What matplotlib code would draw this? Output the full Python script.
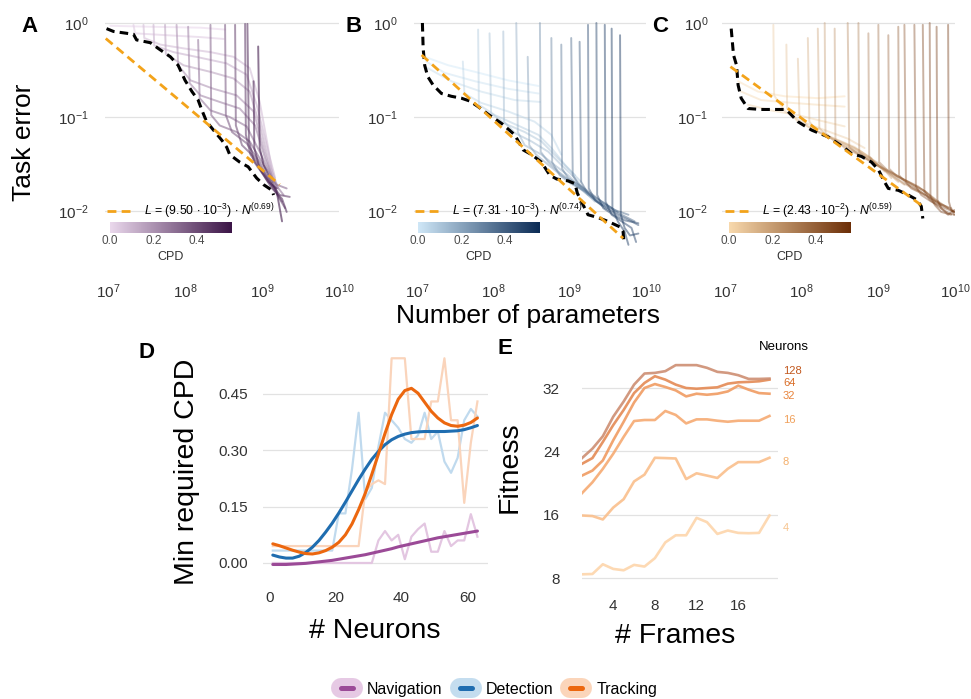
import numpy as np
import matplotlib
matplotlib.use("Agg")
import matplotlib.pyplot as plt
from matplotlib.colors import LinearSegmentedColormap, Normalize
from matplotlib.lines import Line2D
from matplotlib.cm import ScalarMappable
from matplotlib.legend_handler import HandlerTuple
from matplotlib.ticker import FormatStrFormatter, NullLocator, FixedLocator

plt.rcParams['font.family'] = ['Liberation Sans', 'DejaVu Sans']
plt.rcParams['mathtext.fontset'] = 'custom'
plt.rcParams['mathtext.rm'] = 'Liberation Sans'
plt.rcParams['mathtext.it'] = 'Liberation Sans:italic'
plt.rcParams['mathtext.bf'] = 'Liberation Sans:bold'

# ---------------------------------------------------------------- data
# Panels A-C: training curves, log10(number of parameters) vs log10(task error)
A_cpd = [0.00, 0.03, 0.07, 0.10, 0.14, 0.18, 0.22, 0.26, 0.30, 0.34, 0.38, 0.42, 0.46, 0.50, 0.54]
A_log_n = [
    [7.03, 7.55, 8.20, 8.52],
    [7.33, 7.35, 7.76, 8.20, 8.50],
    [7.46, 7.47, 7.68, 7.98, 8.33, 8.63, 8.84, 8.97, 9.08, 9.15],
    [7.59, 7.60, 7.85, 8.20, 8.54, 8.80, 8.93, 9.06, 9.17],
    [7.74, 7.75, 7.98, 8.33, 8.63, 8.84, 8.97, 9.10, 9.21],
    [7.89, 7.91, 8.07, 8.37, 8.67, 8.89, 9.02, 9.15],
    [8.04, 8.06, 8.20, 8.45, 8.71, 8.91, 9.04, 9.19],
    [8.17, 8.19, 8.33, 8.58, 8.80, 8.97, 9.15, 9.28],
    [8.33, 8.34, 8.45, 8.67, 8.84, 9.02, 9.19, 9.32],
    [8.52, 8.53, 8.61, 8.80, 8.97, 9.10, 9.26],
    [8.65, 8.66, 8.74, 8.89, 9.02, 9.15, 9.30],
    [8.78, 8.79, 8.85, 8.97, 9.10, 9.23, 9.36],
    [8.81, 8.83, 8.90, 9.02, 9.13, 9.26, 9.32],
    [8.89, 8.90, 8.97, 9.08, 9.19],
    [8.95, 8.97, 9.02, 9.10, 9.19, 9.26],
]
A_log_err = [
    [-0.03, -0.04, -0.05, -0.07],
    [-0.02, -0.11, -0.13, -0.15, -0.17],
    [-0.02, -0.16, -0.23, -0.27, -0.31, -0.36, -0.48, -0.84, -1.33, -1.69],
    [-0.02, -0.24, -0.31, -0.37, -0.43, -0.55, -0.87, -1.30, -1.65],
    [-0.02, -0.33, -0.45, -0.52, -0.59, -0.73, -1.09, -1.51, -1.76],
    [-0.02, -0.45, -0.61, -0.70, -0.77, -0.94, -1.33, -1.69],
    [-0.04, -0.64, -0.77, -0.84, -0.91, -1.09, -1.44, -1.76],
    [-0.18, -0.80, -0.93, -1.00, -1.10, -1.37, -1.69, -1.83],
    [-0.02, -0.98, -1.09, -1.16, -1.26, -1.51, -1.72, -1.76],
    [-0.02, -0.98, -1.16, -1.28, -1.48, -1.69, -1.90],
    [-0.02, -1.09, -1.30, -1.42, -1.58, -1.76, -1.97],
    [-0.01, -1.19, -1.40, -1.55, -1.69, -1.83, -1.85],
    [-0.01, -1.26, -1.48, -1.62, -1.76, -1.87, -2.01],
    [-0.62, -1.33, -1.55, -1.69, -1.76],
    [-0.25, -1.33, -1.51, -1.65, -1.79, -2.11],
]
A_env_log_n = [6.98, 7.07, 7.33, 7.37, 7.55, 7.65, 7.81, 7.91, 8.00, 8.09, 8.17, 8.22,
               8.28, 8.39, 8.48, 8.54, 8.58, 8.71, 8.82, 8.93, 9.02, 9.13, 9.15]
A_env_log_err = [-0.06, -0.09, -0.12, -0.18, -0.21, -0.27, -0.36, -0.45, -0.61, -0.73, -0.82, -0.93,
                 -1.05, -1.16, -1.25, -1.32, -1.40, -1.48, -1.53, -1.65, -1.72, -1.78, -1.83]
A_fit_log_n = [6.97, 9.23]
A_fit_log_err = [-0.165, -1.72]
A_fit_label = r'$L$ = (9.50 $\cdot$ 10$^{-3}$) $\cdot$ $N^{(0.69)}$'

B_cpd = [0.00, 0.02, 0.04, 0.06, 0.09, 0.12, 0.15, 0.18, 0.22, 0.26, 0.30, 0.34, 0.38, 0.42, 0.46, 0.50, 0.52, 0.54, 0.55]
B_log_n = [
    [7.10, 7.41, 7.76, 8.19, 8.59],
    [7.12, 7.36, 7.76, 8.19, 8.59],
    [7.14, 7.45, 7.84, 8.28, 8.61],
    [7.60, 7.62, 7.84, 8.19, 8.54, 8.76, 8.89],
    [7.80, 7.81, 8.02, 8.32, 8.59, 8.76, 8.94, 9.07],
    [7.95, 7.97, 8.15, 8.41, 8.63, 8.80, 8.98, 9.15],
    [8.13, 8.14, 8.28, 8.50, 8.72, 8.89, 9.07, 9.24],
    [8.30, 8.32, 8.41, 8.63, 8.80, 8.98, 9.15, 9.33],
    [8.45, 8.47, 8.56, 8.72, 8.89, 9.07, 9.24, 9.42],
    [8.61, 8.62, 8.72, 8.85, 9.02, 9.20, 9.37, 9.50],
    [8.76, 8.77, 8.87, 9.02, 9.20, 9.37, 9.55],
    [8.89, 8.90, 8.98, 9.11, 9.28, 9.46, 9.63],
    [9.02, 9.04, 9.11, 9.24, 9.42, 9.59, 9.77],
    [9.13, 9.15, 9.22, 9.35, 9.50, 9.68, 9.85],
    [9.24, 9.25, 9.33, 9.46, 9.63, 9.81, 9.90],
    [9.35, 9.36, 9.44, 9.57, 9.72, 9.90],
    [9.46, 9.47, 9.55, 9.68, 9.81, 9.87],
    [9.55, 9.56, 9.63, 9.72, 9.77],
    [9.66, 9.67, 9.72, 9.79, 9.90],
]
B_log_err = [
    [-0.36, -0.45, -0.52, -0.61, -0.67],
    [-0.41, -0.53, -0.62, -0.70, -0.75],
    [-0.48, -0.62, -0.73, -0.82, -0.84],
    [-0.41, -0.75, -0.85, -0.94, -1.05, -1.19, -1.40],
    [-0.07, -0.87, -0.98, -1.09, -1.19, -1.33, -1.51, -1.62],
    [-0.11, -0.96, -1.07, -1.16, -1.26, -1.40, -1.55, -1.69],
    [-0.09, -1.05, -1.17, -1.26, -1.37, -1.51, -1.65, -1.83],
    [-0.00, -1.16, -1.30, -1.40, -1.51, -1.62, -1.76, -1.90],
    [-0.36, -1.30, -1.40, -1.51, -1.62, -1.72, -1.83, -1.94],
    [-0.00, -1.37, -1.48, -1.58, -1.69, -1.79, -1.90, -1.97],
    [-0.16, -1.48, -1.62, -1.71, -1.79, -1.90, -1.97],
    [-0.23, -1.55, -1.65, -1.72, -1.83, -1.92, -2.01],
    [-0.16, -1.62, -1.71, -1.79, -1.90, -1.99, -2.04],
    [-0.20, -1.69, -1.79, -1.90, -1.97, -2.04, -2.11],
    [-0.02, -1.76, -1.88, -1.97, -2.04, -2.11, -2.15],
    [-0.00, -1.83, -1.97, -2.04, -2.10, -2.13],
    [-0.02, -1.90, -2.04, -2.11, -2.18, -2.33],
    [-0.06, -1.97, -2.11, -2.22, -2.36],
    [-0.13, -2.04, -2.18, -2.26, -2.24],
]
B_env_log_n = [7.07, 7.08, 7.10, 7.14, 7.21, 7.32, 7.45, 7.58, 7.69, 7.80, 7.93, 8.11, 8.28, 8.39,
               8.50, 8.63, 8.74, 8.83, 8.98, 9.07, 9.10, 9.24, 9.37, 9.50, 9.66, 9.70, 9.71]
B_env_log_err = [-0.00, -0.27, -0.45, -0.57, -0.66, -0.75, -0.78, -0.80, -0.83, -0.89, -0.97, -1.07, -1.19, -1.35,
                 -1.40, -1.48, -1.62, -1.66, -1.68, -1.71, -1.81, -2.04, -2.07, -2.11, -2.17, -2.22, -2.33]
B_fit_log_n = [7.06, 9.70]
B_fit_log_err = [-0.34, -2.29]
B_fit_label = r'$L$ = (7.31 $\cdot$ 10$^{-3}$) $\cdot$ $N^{(0.74)}$'

C_cpd = [0.00, 0.02, 0.04, 0.06, 0.09, 0.12, 0.15, 0.18, 0.21, 0.24, 0.27, 0.30, 0.33, 0.36, 0.39,
         0.42, 0.45, 0.48, 0.50, 0.52, 0.54, 0.55]
C_log_n = [
    [7.17, 7.43, 7.78, 8.21, 8.56],
    [7.21, 7.47, 7.87, 8.21, 8.56],
    [7.30, 7.60, 7.95, 8.30, 8.56],
    [7.63, 7.64, 7.78, 8.00, 8.30, 8.60, 8.82],
    [7.80, 7.81, 7.95, 8.17, 8.43, 8.69, 8.91],
    [7.95, 7.97, 8.08, 8.30, 8.56, 8.78, 9.00],
    [8.08, 8.10, 8.21, 8.43, 8.69, 8.91, 9.08],
    [8.21, 8.23, 8.34, 8.56, 8.78, 9.00, 9.17],
    [8.30, 8.31, 8.43, 8.65, 8.87, 9.08, 9.26],
    [8.43, 8.44, 8.56, 8.74, 8.95, 9.17, 9.34],
    [8.60, 8.62, 8.74, 8.91, 9.13, 9.34, 9.52],
    [8.74, 8.75, 8.84, 9.04, 9.26, 9.47, 9.61],
    [8.87, 8.88, 8.97, 9.17, 9.39, 9.61, 9.74],
    [9.00, 9.01, 9.11, 9.30, 9.52, 9.69, 9.82],
    [9.13, 9.14, 9.24, 9.43, 9.61, 9.78, 9.91],
    [9.26, 9.27, 9.37, 9.52, 9.69, 9.87, 9.99],
    [9.34, 9.36, 9.43, 9.61, 9.78, 9.95, 9.99],
    [9.47, 9.49, 9.56, 9.69, 9.87, 9.99],
    [9.58, 9.60, 9.67, 9.78, 9.91, 9.99],
    [9.67, 9.68, 9.74, 9.82, 9.95],
    [9.76, 9.77, 9.82, 9.91, 9.99],
    [9.91, 9.92, 9.95, 9.99],
]
C_log_err = [
    [-0.62, -0.73, -0.78, -0.80, -0.78],
    [-0.73, -0.82, -0.85, -0.87, -0.89],
    [-0.87, -0.93, -0.98, -1.05, -1.10],
    [-0.02, -0.77, -0.94, -1.05, -1.14, -1.23, -1.33],
    [-0.23, -0.91, -1.05, -1.14, -1.23, -1.32, -1.44],
    [-0.38, -0.98, -1.10, -1.19, -1.28, -1.37, -1.51],
    [-0.16, -1.05, -1.16, -1.24, -1.33, -1.44, -1.58],
    [-0.06, -1.12, -1.21, -1.30, -1.39, -1.49, -1.65],
    [-0.00, -1.17, -1.26, -1.35, -1.44, -1.56, -1.69],
    [-0.06, -1.24, -1.33, -1.40, -1.49, -1.62, -1.72],
    [-0.00, -1.32, -1.40, -1.48, -1.58, -1.71, -1.79],
    [-0.00, -1.37, -1.44, -1.53, -1.63, -1.74, -1.83],
    [-0.11, -1.42, -1.51, -1.60, -1.69, -1.79, -1.90],
    [-0.02, -1.48, -1.56, -1.65, -1.74, -1.85, -1.94],
    [-0.13, -1.55, -1.63, -1.71, -1.79, -1.90, -1.97],
    [-0.04, -1.62, -1.71, -1.78, -1.87, -1.95, -2.01],
    [-0.02, -1.69, -1.76, -1.83, -1.92, -1.97, -2.04],
    [-0.02, -1.74, -1.83, -1.90, -1.97, -2.01],
    [-0.02, -1.79, -1.88, -1.95, -2.02, -2.04],
    [-0.00, -1.85, -1.94, -2.01, -2.04],
    [-0.04, -1.88, -1.97, -2.04, -1.99],
    [-0.02, -1.90, -1.99, -2.01],
]
C_env_log_n = [7.08, 7.11, 7.15, 7.17, 7.21, 7.30, 7.47, 7.78, 7.82, 7.95, 8.13, 8.34,
               8.56, 8.65, 8.78, 8.91, 9.00, 9.08, 9.13, 9.26, 9.39, 9.50, 9.56, 9.58]
C_env_log_err = [-0.06, -0.34, -0.45, -0.66, -0.80, -0.91, -0.92, -0.92, -0.94, -1.05, -1.14, -1.21,
                 -1.33, -1.39, -1.42, -1.48, -1.56, -1.69, -1.76, -1.78, -1.83, -1.88, -1.95, -2.08]
C_fit_log_n = [7.07, 9.58]
C_fit_log_err = [-0.465, -1.95]
C_fit_label = r'$L$ = (2.43 $\cdot$ 10$^{-2}$) $\cdot$ $N^{(0.59)}$'

# Panel D: minimum required CPD vs number of neurons
D_neurons = [1, 3, 5, 7, 9, 11, 13, 15, 17, 19, 21, 23, 25, 27, 29, 31,
             33, 35, 37, 39, 41, 43, 45, 47, 49, 51, 53, 55, 57, 59, 61, 63]
D_nav_raw = [0.0, 0.0, 0.0, 0.0, 0.0, 0.0, 0.0, 0.0, 0.0, 0.0, 0.0, 0.0, 0.0, 0.0, 0.0, 0.0,
             0.06, 0.085, 0.06, 0.075, 0.01, 0.07, 0.09, 0.105, 0.03, 0.03, 0.085, 0.045, 0.06, 0.06, 0.13, 0.07]
D_det_raw = [0.033, 0.033, 0.033, 0.033, 0.033, 0.033, 0.033, 0.033, 0.033, 0.033, 0.132, 0.132, 0.25, 0.40, 0.17, 0.20,
             0.31, 0.40, 0.38, 0.36, 0.33, 0.32, 0.34, 0.40, 0.33, 0.35, 0.27, 0.24, 0.28, 0.38, 0.41, 0.39]
D_trk_raw = [0.045, 0.045, 0.045, 0.045, 0.045, 0.045, 0.045, 0.045, 0.045, 0.045, 0.045, 0.045, 0.045, 0.045, 0.19, 0.21,
             0.22, 0.21, 0.545, 0.545, 0.545, 0.33, 0.33, 0.33, 0.43, 0.43, 0.545, 0.38, 0.38, 0.16, 0.32, 0.43]
D_nav_smooth = [-0.004, -0.004, -0.004, -0.003, -0.002, -0.001, 0.001, 0.003, 0.005, 0.007, 0.010, 0.013, 0.016, 0.019, 0.022, 0.026,
                0.030, 0.034, 0.038, 0.043, 0.047, 0.051, 0.055, 0.059, 0.063, 0.067, 0.070, 0.073, 0.076, 0.079, 0.082, 0.085]
D_det_smooth = [0.021, 0.016, 0.013, 0.013, 0.018, 0.028, 0.042, 0.060, 0.082, 0.106, 0.133, 0.162, 0.192, 0.222, 0.250, 0.276,
                0.297, 0.315, 0.328, 0.337, 0.343, 0.347, 0.349, 0.350, 0.350, 0.350, 0.350, 0.351, 0.352, 0.355, 0.360, 0.366]
D_trk_smooth = [0.051, 0.046, 0.040, 0.034, 0.029, 0.025, 0.024, 0.027, 0.033, 0.042, 0.055, 0.075, 0.104, 0.142, 0.185, 0.236,
                0.290, 0.345, 0.395, 0.436, 0.459, 0.465, 0.452, 0.428, 0.404, 0.386, 0.373, 0.366, 0.364, 0.367, 0.374, 0.386]
D_tasks = ['Navigation', 'Detection', 'Tracking']

# Panel E: fitness vs number of frames, per network size
E_frames = [1, 2, 3, 4, 5, 6, 7, 8, 9, 10, 11, 12, 13, 14, 15, 16, 17, 18, 19]
E_neurons = [4, 8, 16, 32, 64, 128]
E_fitness = [
    [8.47, 8.51, 9.74, 9.15, 8.98, 9.66, 9.45, 10.51, 12.5, 13.4, 13.4, 15.6, 15.06, 13.57, 14.0, 13.7, 13.66, 13.7, 15.9],
    [15.9, 15.83, 15.4, 16.9, 17.96, 20.2, 21.06, 23.19, 23.15, 23.1, 20.5, 21.23, 20.94, 20.64, 21.8, 22.64, 22.64, 22.64, 23.19],
    [18.72, 20.09, 21.79, 23.7, 25.83, 27.83, 27.96, 27.96, 29.1, 28.6, 27.53, 28.04, 28.04, 27.87, 27.74, 27.87, 27.87, 27.87, 28.47],
    [20.94, 21.57, 22.85, 25.4, 27.74, 30.17, 32.0, 32.5, 32.13, 31.7, 30.94, 31.28, 31.15, 31.28, 31.57, 32.3, 31.79, 31.36, 31.28],
    [22.43, 23.15, 25.19, 27.32, 29.23, 31.36, 32.64, 33.49, 33.06, 32.43, 32.0, 31.91, 32.0, 32.09, 32.55, 32.72, 32.77, 32.85, 33.06],
    [23.15, 24.34, 25.91, 28.38, 30.3, 32.43, 33.83, 33.91, 34.13, 34.89, 34.89, 34.89, 34.55, 34.04, 33.91, 33.62, 33.15, 33.15, 33.19],
]
E_label_y = [14.36, 22.66, 27.96, 31.03, 32.67, 34.15]

# ---------------------------------------------------------------- styles
W, H = 971, 699
fig = plt.figure(figsize=(W / 100, H / 100), dpi=100)
fig.patch.set_facecolor('white')


def frame(l, t, r, b):
    return [l / W, 1 - b / H, (r - l) / W, (b - t) / H]


TICK_C = '#333333'
GRID_C = '#e2e2e2'
FIT_C = '#f3a31a'
CPD_NORM = Normalize(0.0, 0.56)

cmap_A = LinearSegmentedColormap.from_list('A', ['#ead8ec', '#3b1446'])
cmap_B = LinearSegmentedColormap.from_list('B', ['#cfe7f7', '#0a2a54'])
cmap_C = LinearSegmentedColormap.from_list('C', ['#f8d9ad', '#6b2d06'])


def style_axes(ax):
    for s in ax.spines.values():
        s.set_visible(False)
    ax.tick_params(length=0, labelsize=11, colors=TICK_C)
    ax.grid(axis='y', color=GRID_C, lw=0.9)
    ax.grid(axis='x', visible=False)
    ax.set_axisbelow(True)


def scaling_panel(box, cbox, cpd, logn, logerr, env_n, env_e, fit_n, fit_e, fit_label,
                  cmap, alpha, ypad, leg_x, letter, letter_xy):
    ax = fig.add_axes(frame(*box))
    style_axes(ax)
    ax.set_xscale('log')
    ax.set_yscale('log')
    for i in np.argsort(cpd):
        ax.plot(10 ** np.array(logn[i]), 10 ** np.array(logerr[i]),
                color=cmap(CPD_NORM(cpd[i])), alpha=alpha, lw=1.4,
                solid_joinstyle='round', solid_capstyle='round', zorder=2)
    ax.plot(10 ** np.array(env_n), 10 ** np.array(env_e), color='black',
            lw=2.2, dashes=(2.8, 1.7), zorder=4)
    fl, = ax.plot(10 ** np.array(fit_n), 10 ** np.array(fit_e), color=FIT_C,
                  lw=2.0, dashes=(3.2, 1.9), zorder=5)
    ax.set_xlim(10 ** 6.96, 10 ** 10.0)
    ax.set_ylim(10 ** -2.681, 10 ** 0.053)
    ax.xaxis.set_major_locator(FixedLocator([1e7, 1e8, 1e9, 1e10]))
    ax.yaxis.set_major_locator(FixedLocator([1e-2, 1e-1, 1e0]))
    ax.xaxis.set_minor_locator(NullLocator())
    ax.yaxis.set_minor_locator(NullLocator())
    ax.tick_params(axis='y', pad=ypad)
    ax.tick_params(axis='x', pad=5)
    ax.legend([fl], [fit_label], loc='center left', bbox_to_anchor=(leg_x, 0.247),
              frameon=False, fontsize=8.8, handlelength=1.9, handletextpad=1.1,
              borderpad=0, borderaxespad=0)
    cax = fig.add_axes(frame(*cbox))
    cb = fig.colorbar(ScalarMappable(norm=CPD_NORM, cmap=cmap), cax=cax,
                      orientation='horizontal', ticks=[0.0, 0.2, 0.4])
    cb.outline.set_visible(False)
    cb.ax.set_xticklabels(['0.0', '0.2', '0.4'])
    cax.tick_params(length=0, pad=1.5, labelsize=8.5, colors='#4d4d4d')
    cb.set_label('CPD', fontsize=9, labelpad=3, color='#333333')
    fig.text(letter_xy[0] / W, 1 - letter_xy[1] / H, letter, fontsize=16,
             fontweight='bold', ha='center', va='center')
    return ax


scaling_panel((105, 18, 339, 275), (110, 222, 232, 233), A_cpd, A_log_n, A_log_err,
              A_env_log_n, A_env_log_err, A_fit_log_n, A_fit_log_err, A_fit_label,
              cmap_A, 0.6, 12, 0.009, 'A', (29, 27))
scaling_panel((414, 18, 646, 275), (418, 222, 540, 233), B_cpd, B_log_n, B_log_err,
              B_env_log_n, B_env_log_err, B_fit_log_n, B_fit_log_err, B_fit_label,
              cmap_B, 0.45, 11.5, 0.004, 'B', (354, 27))
scaling_panel((722, 18, 955, 275), (729, 222, 851, 233), C_cpd, C_log_n, C_log_err,
              C_env_log_n, C_env_log_err, C_fit_log_n, C_fit_log_err, C_fit_label,
              cmap_C, 0.4, 10, 0.013, 'C', (660, 27))

fig.text(24 / W, 1 - 142 / H, 'Task error', rotation=90, fontsize=19, ha='center', va='center')
fig.text(528 / W, 1 - 316 / H, 'Number of parameters', fontsize=19, ha='center', va='center')

# ---------------------------------------------------------------- panel D
axD = fig.add_axes(frame(262.7, 347, 488, 575))
style_axes(axD)
raw_cols = ['#e3c6e1', '#c0daee', '#fad4bb']
smooth_cols = ['#9b4a97', '#1f6db0', '#ec670f']
fill_cols = ['#e6c9e4', '#c4ddef', '#fbd5ba']
for raw, col in zip([D_nav_raw, D_det_raw, D_trk_raw], raw_cols):
    axD.plot(D_neurons, raw, color=col, lw=1.6, zorder=2, solid_joinstyle='round')
for sm, col in zip([D_nav_smooth, D_det_smooth, D_trk_smooth], smooth_cols):
    axD.plot(D_neurons, sm, color=col, lw=2.2, zorder=3, solid_capstyle='round')
axD.set_xlim(-2.06, 66.2)
axD.set_ylim(-0.032, 0.575)
axD.set_xticks([0, 20, 40, 60])
axD.set_yticks([0.0, 0.15, 0.30, 0.45])
axD.yaxis.set_major_formatter(FormatStrFormatter('%.2f'))
axD.tick_params(axis='y', pad=10.6)
axD.tick_params(axis='x', pad=11.5)
fig.text(147 / W, 1 - 352 / H, 'D', fontsize=16, fontweight='bold', ha='center', va='center')
fig.text(187 / W, 1 - 472 / H, 'Min required CPD', rotation=90, fontsize=20.5, ha='center', va='center')
fig.text(374.5 / W, 1 - 631 / H, '# Neurons', fontsize=20.5, ha='center', va='center')

# ---------------------------------------------------------------- panel E
axE = fig.add_axes(frame(582, 355, 778, 585))
style_axes(axE)
line_cols = ['#fdd5ab', '#fabf8c', '#f6aa72', '#f09b62', '#e48a54', '#cd8e72']
lab_cols = ['#f7c48e', '#f4af6b', '#f0a05a', '#e8843c', '#d96d27', '#c2581e']
for vals, col in zip(E_fitness, line_cols):
    axE.plot(E_frames, vals, color=col, lw=1.9, alpha=0.9, zorder=2, solid_joinstyle='round')
for n, ly, col in zip(E_neurons, E_label_y, lab_cols):
    axE.text(20.3, ly, str(n), color=col, fontsize=8, ha='left', va='center', clip_on=False)
axE.set_xlim(1.0, 19.82)
axE.set_ylim(7.12, 36.17)
axE.set_xticks([4, 8, 12, 16])
axE.set_yticks([8, 16, 24, 32])
axE.tick_params(axis='y', pad=16)
axE.tick_params(axis='x', pad=10)
fig.text(505 / W, 1 - 349 / H, 'E', fontsize=16, fontweight='bold', ha='center', va='center')
fig.text(784 / W, 1 - 347 / H, 'Neurons', fontsize=9.5, ha='center', va='center')
fig.text(510 / W, 1 - 467 / H, 'Fitness', rotation=90, fontsize=20.5, ha='center', va='center')
fig.text(675 / W, 1 - 636 / H, '# Frames', fontsize=20.5, ha='center', va='center')

# ---------------------------------------------------------------- bottom legend
handles = []
for fc, lc in zip(fill_cols, smooth_cols):
    handles.append((Line2D([], [], color=fc, lw=14.4, solid_capstyle='round'),
                    Line2D([], [], color=lc, lw=3.6, solid_capstyle='round')))
fig.legend(handles, D_tasks, handler_map={tuple: HandlerTuple(ndivide=1, pad=0)},
           loc='center', bbox_to_anchor=(0.514, 0.0143), ncol=3, frameon=False,
           fontsize=11.5, handlelength=0.75, handletextpad=0.88, columnspacing=1.07,
           borderpad=0, borderaxespad=0)

fig.savefig('out.png', dpi=100, facecolor='white')
